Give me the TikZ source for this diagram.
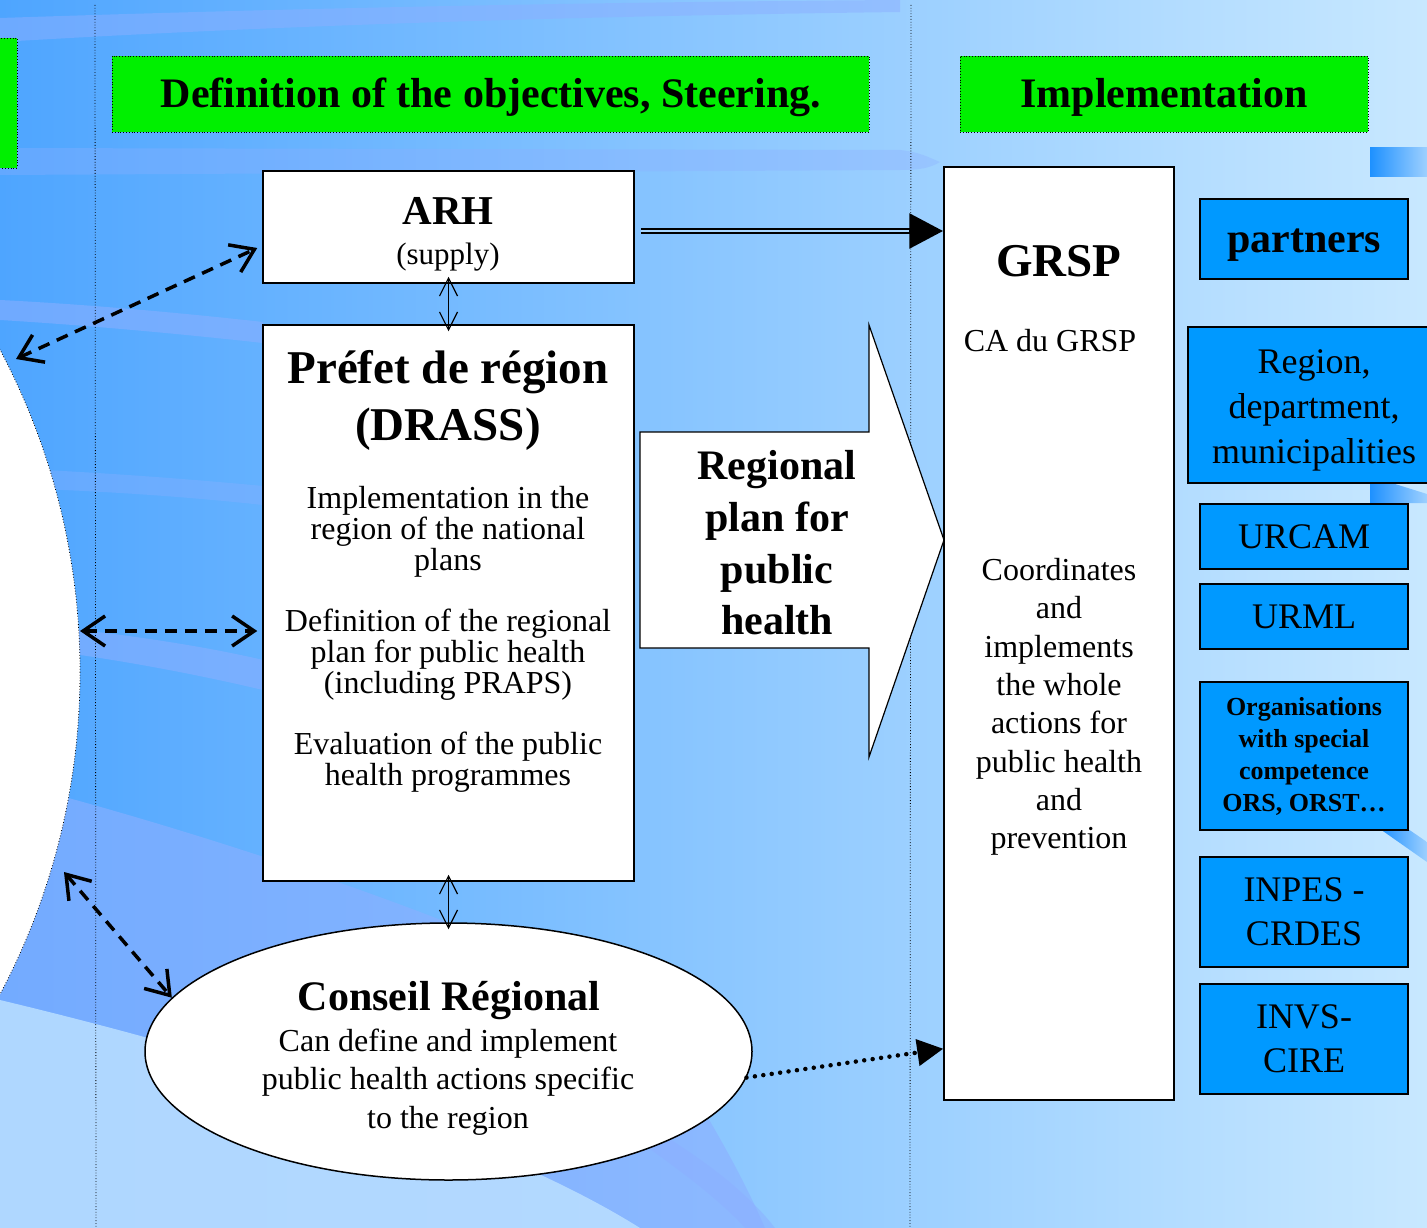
\documentclass[tikz,border=0pt]{standalone}
\usepackage{fontspec}
\setmainfont{Liberation Serif}
\usetikzlibrary{arrows.meta,shapes.geometric}

\definecolor{bgleft}{RGB}{78,165,255}
\definecolor{bgmid}{RGB}{158,208,255}
\definecolor{bgright}{RGB}{200,232,255}
\definecolor{band}{RGB}{140,175,255}
\definecolor{bglight}{RGB}{190,226,255}
\definecolor{gapblue}{RGB}{168,214,255}
\definecolor{hdrgreen}{RGB}{0,240,0}
\definecolor{partnerblue}{RGB}{0,153,255}
\definecolor{decoblue}{RGB}{30,145,255}

\begin{document}
\begin{tikzpicture}[x=1pt,y=-1pt,
  hdr/.style={draw, dotted, line width=.8pt, fill=hdrgreen, inner sep=0pt},
  whitebox/.style={draw, line width=1.5pt, fill=white, inner sep=0pt},
  partner/.style={draw, line width=1.5pt, fill=partnerblue, inner sep=0pt, minimum width=208pt, align=center},
  txt/.style={align=center, inner sep=0pt},
  dasharrow/.style={line width=3.5pt, dash pattern=on 12pt off 8pt,
    {Straight Barb[length=22pt,width=30pt]}-{Straight Barb[length=22pt,width=30pt]}},
  thinarrow/.style={line width=1.2pt, shorten <=-7pt, shorten >=-7pt,
    {Straight Barb[length=18pt,width=18pt]}-{Straight Barb[length=18pt,width=18pt]}}]
\useasboundingbox (0,0) rectangle (1427,1228);
\clip (0,0) rectangle (1427,1228);

% background
\fill[left color=bgleft, middle color=bgmid, right color=bgright] (0,0) rectangle (1427,1228);
\fill[band, opacity=.5] (0,18) .. controls (300,8) and (600,2) .. (900,0) -- (900,12) .. controls (600,16) and (300,24) .. (0,42) -- cycle;
\fill[band, opacity=.35] (0,148) -- (900,150) .. controls (920,152) and (930,158) .. (940,162) .. controls (930,168) and (920,170) .. (900,170) -- (0,175) -- cycle;
\fill[band, opacity=.55] (0,300) .. controls (100,305) and (200,315) .. (263,322) -- (263,343) .. controls (200,336) and (100,326) .. (0,320) -- cycle;
\fill[band, opacity=.35] (0,468) .. controls (100,472) and (200,480) .. (263,486) -- (263,505) .. controls (200,498) and (100,490) .. (0,488) -- cycle;
\fill[band, opacity=.55] (0,622) .. controls (100,630) and (200,645) .. (263,660) -- (263,690) .. controls (200,675) and (100,655) .. (0,645) -- cycle;
\fill[band, opacity=.6] (0,780) .. controls (200,830) and (500,930) .. (640,1010) .. controls (700,1100) and (740,1170) .. (765,1228) -- (0,1228) -- cycle;
\fill[bglight, opacity=.8] (0,1000) .. controls (250,1060) and (500,1140) .. (640,1228) -- (0,1228) -- cycle;
\fill[band, opacity=.5] (630,1135) .. controls (680,1170) and (720,1200) .. (745,1228) -- (775,1228) .. controls (750,1195) and (705,1160) .. (655,1130) -- cycle;
\shade[left color=decoblue, middle color=white, right color=bgmid] (1370,148) rectangle (1427,176);
\shade[left color=decoblue, middle color=white, right color=bgmid] (1370,484) -- (1395,484) -- (1427,494) -- (1427,503) -- (1370,503) -- cycle;
\shade[left color=decoblue, middle color=white, right color=bgmid] (1380,829) -- (1408,829) -- (1427,842) -- (1427,862) -- cycle;

% left disc and separators
\draw[fill=white, dotted, line width=.8pt] (-608,672) circle (688);
\draw[dotted, line width=.8pt] (95,5) -- (96,1228);
\draw[dotted, line width=.8pt] (911,5) -- (910,1228);
\draw[hdr] (-5,38) rectangle (17,168);

% headers
\node[hdr, minimum width=757pt, minimum height=76pt] (objectives) at (490.5,94) {};
\node[txt, font=\fontsize{42}{50}\selectfont\bfseries] (objectivestxt) at (491,97) {Definition of the objectives, Steering.};
\node[hdr, minimum width=408pt, minimum height=76pt] (implementation) at (1164,94) {};
\node[txt, font=\fontsize{42}{50}\selectfont\bfseries] (implementationtxt) at (1164,97) {Implementation};

% left column
\node[whitebox, minimum width=371pt, minimum height=112pt] (arh) at (448.5,227) {};
\node[txt, font=\fontsize{41}{48}\selectfont\bfseries] (arhname) at (448,211) {ARH};
\node[txt, font=\fontsize{31}{36}\selectfont] (arhsub) at (448,257) {(supply)};

\node[whitebox, minimum width=371pt, minimum height=556pt] (prefet) at (448.5,603) {};
\node[txt, font=\fontsize{47}{57}\selectfont\bfseries] (prefetname) at (448,400) {Préfet de région\\(DRASS)};
\node[txt, font=\fontsize{32}{31}\selectfont] (prefetone) at (448,532) {Implementation in the\\region of the national\\plans};
\node[txt, font=\fontsize{32}{31}\selectfont] (prefettwo) at (448,655) {Definition of the regional\\plan for public health\\(including PRAPS)};
\node[txt, font=\fontsize{32}{31}\selectfont] (prefetthree) at (448,762) {Evaluation of the public\\health programmes};

\node[ellipse, draw, line width=1.5pt, fill=white, minimum width=607pt, minimum height=257pt, inner sep=0pt] (conseil) at (448.5,1051.5) {};
\node[txt, font=\fontsize{42}{50}\selectfont\bfseries] (conseilname) at (449,1001) {Conseil Régional};
\node[txt, font=\fontsize{32}{38.5}\selectfont] (conseilbody) at (448,1082) {Can define and implement\\public health actions specific\\to the region};

% regional plan
\draw[fill=white, line width=1.2pt] (640,432) -- (869,432) -- (869,325) -- (944,540) -- (869,757) -- (869,648) -- (640,648) -- cycle;
\node[txt, font=\fontsize{42}{51.7}\selectfont\bfseries] (plan) at (777,543) {Regional\\plan for\\public\\health};

% GRSP
\node[whitebox, minimum width=230pt, minimum height=933pt] (grsp) at (1059,633.5) {};
\node[txt, font=\fontsize{47}{55}\selectfont\bfseries] (grspname) at (1059,261) {GRSP};
\node[txt, font=\fontsize{32}{38}\selectfont] (grspca) at (1050,341) {CA du GRSP};
\node[txt, font=\fontsize{32}{38.3}\selectfont] (grspbody) at (1059,707) {Coordinates\\and\\implements\\the whole\\actions for\\public health\\and\\prevention};

% partners
\node[partner, minimum height=80pt] (partners) at (1304,239) {};
\node[txt, font=\fontsize{42}{50}\selectfont\bfseries] (partnerstxt) at (1304,245) {partners};
\node[partner, minimum width=252pt, minimum height=156pt, font=\fontsize{36}{45}\selectfont] (collect) at (1314,405) {};
\node[txt, font=\fontsize{36}{45}\selectfont] (collecttxt) at (1314,410) {Region,\\department,\\municipalities};
\node[partner, minimum height=65pt, font=\fontsize{36}{44}\selectfont] (urcam) at (1304,536.5) {URCAM};
\node[partner, minimum height=65pt, font=\fontsize{36}{44}\selectfont] (urml) at (1304,616.5) {URML};
\node[partner, minimum height=148pt, font=\fontsize{26}{32}\selectfont\bfseries] (orgs) at (1304,756) {Organisations\\with special\\competence\\ORS, ORST…};
\node[partner, minimum height=110pt, font=\fontsize{36}{44}\selectfont] (inpes) at (1304,912) {INPES -\\CRDES};
\node[partner, minimum height=110pt, font=\fontsize{36}{44}\selectfont] (invs) at (1304,1039) {INVS-\\CIRE};

% connectors
\coordinate (discA) at (16,359);
\coordinate (discB) at (80,631);
\coordinate (discC) at (64,872);
\draw[dasharrow] (discA) -- ([shift={(-5pt,-21pt)}]arh.west);
\draw[dasharrow] (discB) -- ([shift={(-5pt,-28pt)}]prefet.west);
\draw[dasharrow] (discC) -- (conseil.169);
\draw[thinarrow] (arh) -- (prefet);
\draw[thinarrow] (prefet) -- (conseil);

\coordinate (arhout) at ([xshift=6pt,yshift=-4pt]arh.east);
\coordinate (grspin) at (arhout -| grsp.west);
\draw[line width=6pt, -{Triangle[length=34pt,width=34pt]}] (arhout) -- (grspin);
\draw[line width=2pt, gapblue, shorten >=34pt] (arhout) -- (grspin);
\draw[line width=4.5pt, line cap=round, dash pattern=on 0pt off 8.5pt, -{Triangle[length=26pt,width=26pt]}] (conseil.-5) -- ([yshift=52pt]grsp.south west);

\end{tikzpicture}
\end{document}
